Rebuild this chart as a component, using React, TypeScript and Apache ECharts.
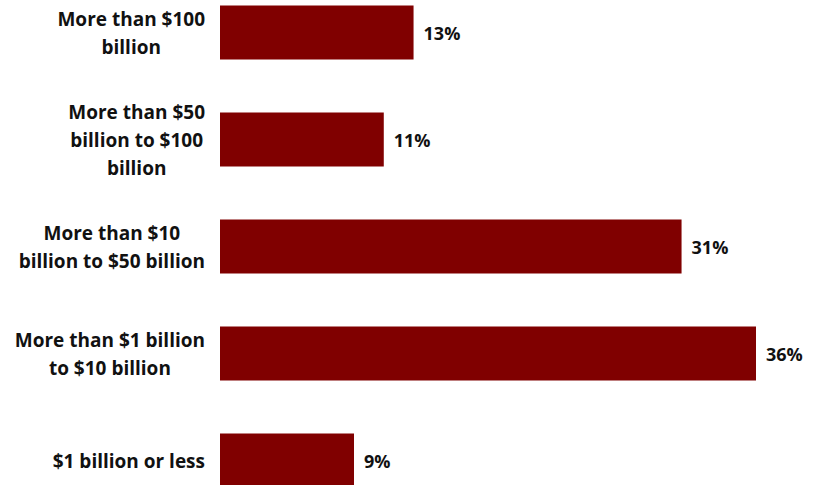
import React, { useEffect, useRef } from "react";
import * as echarts from "echarts";

const categories = [
  "More than $100\nbillion",
  "More than $50\nbillion to $100\nbillion",
  "More than $10\nbillion to $50 billion",
  "More than $1 billion\nto $10 billion",
  "$1 billion or less",
];
const values = [13, 11, 31, 36, 9];

const FONT = "Open Sans";

export default function App() {
  const ref = useRef<HTMLDivElement>(null);
  useEffect(() => {
    const chart = echarts.init(ref.current!, undefined, { renderer: "svg" });
    chart.setOption({
      animation: false,
      grid: { left: 220, right: 61, top: 0, bottom: 0, containLabel: false },
      xAxis: {
        type: "value",
        min: 0,
        max: 36,
        show: false,
      },
      yAxis: {
        type: "category",
        data: categories,
        inverse: true,
        axisLine: { show: false },
        axisTick: { show: false },
        splitLine: { show: false },
        axisLabel: {
          margin: 15,
          fontFamily: FONT,
          fontWeight: "bold",
          fontSize: 19,
          lineHeight: 28,
          color: "#111",
          align: "right",
          formatter: (v: string) =>
            v
              .split("\n")
              .map((line) => "{c|" + line + "}")
              .join("\n"),
          rich: {
            c: {
              align: "center",
              fontFamily: FONT,
              fontWeight: "bold",
              fontSize: 19,
              lineHeight: 28,
              color: "#111",
            },
          },
        },
      },
      series: [
        {
          type: "bar",
          data: values,
          barWidth: 54,
          itemStyle: { color: "#800000" },
          label: {
            show: true,
            position: "right",
            distance: 10,
            formatter: "{c}%",
            fontFamily: FONT,
            fontWeight: "bold",
            fontSize: 18,
            color: "#111",
          },
        },
      ],
    });
    return () => chart.dispose();
  }, []);
  return (
    <div style={{ position: "fixed", left: 0, top: 0, width: 817, height: 485, overflow: "hidden", background: "#fff" }}>
      <div
        ref={ref}
        style={{ position: "absolute", left: 0, top: -21, width: 817, height: 535 }}
      />
    </div>
  );
}
